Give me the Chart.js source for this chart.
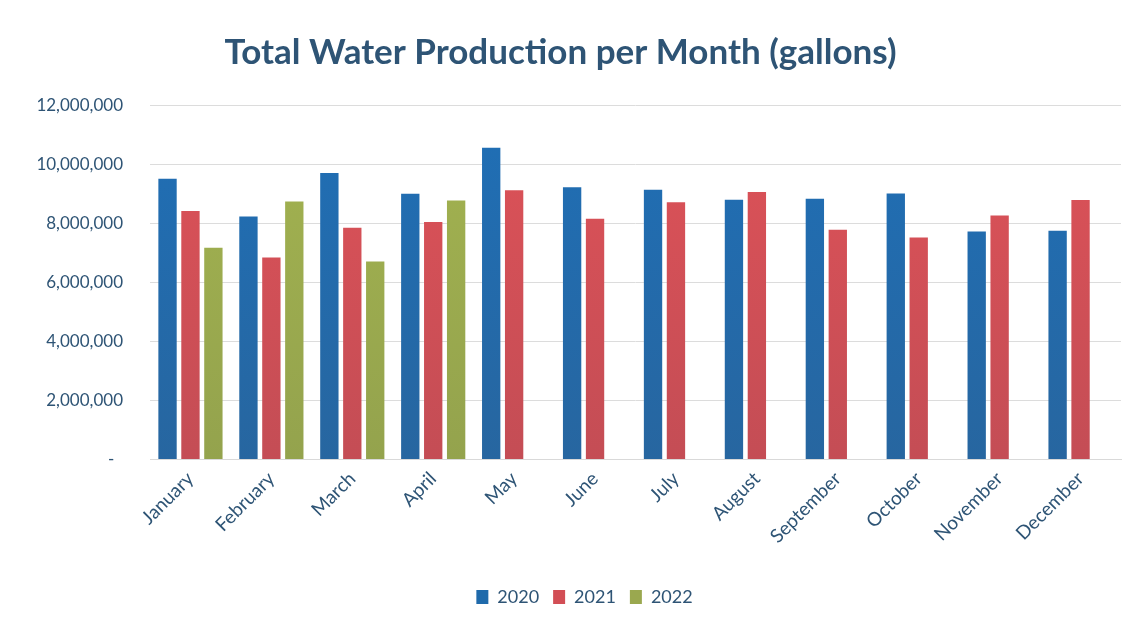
<!DOCTYPE html>
<html lang="en">
<head>
  <meta charset="UTF-8"/>
  <title>Total Water Production per Month</title>
  <script src="https://cdn.jsdelivr.net/npm/chart.js"></script>
  <style>
    html, body { margin: 0; padding: 0; background: #ffffff; }
    .wrap { width: 1140px; height: 624px; position: relative; }
  </style>
</head>
<body>
  <div class="wrap"><canvas id="chart"></canvas></div>

  <script>
    const months = ['January', 'February', 'March', 'April', 'May', 'June',
      'July', 'August', 'September', 'October', 'November', 'December'];
    const prod2020 = [9510000, 8230000, 9700000, 9000000, 10560000, 9220000,
      9140000, 8800000, 8830000, 9010000, 7720000, 7750000];
    const prod2021 = [8420000, 6840000, 7850000, 8040000, 9120000, 8150000,
      8710000, 9060000, 7780000, 7520000, 8260000, 8790000];
    const prod2022 = [7170000, 8740000, 6710000, 8770000, null, null,
      null, null, null, null, null, null];
    const yTicks = [0, 2000000, 4000000, 6000000, 8000000, 10000000, 12000000];

    const textColor = '#2e5475';
    const font = 'Lato, "Open Sans", sans-serif';

    // slightly darker toward the base of each bar
    function shade(top, bottom) {
      return (ctx) => {
        const area = ctx.chart.chartArea;
        if (!area) return top;
        const g = ctx.chart.ctx.createLinearGradient(0, area.top, 0, area.bottom);
        g.addColorStop(0, top);
        g.addColorStop(1, bottom);
        return g;
      };
    }

    const series = [
      { label: '2020', data: prod2020, top: '#1f6fb6', bottom: '#2766a0', key: '#1f6aab' },
      { label: '2021', data: prod2021, top: '#de5258', bottom: '#c44d55', key: '#d24e55' },
      { label: '2022', data: prod2022, top: '#a3b350', bottom: '#94a34d', key: '#9aa84f' }
    ];

    // nudge the legend a little right of the canvas centre
    const legendShift = {
      id: 'legendShift',
      afterUpdate(chart) {
        const lg = chart.legend;
        if (!lg) return;
        lg.left += 24;
        lg.right += 24;
        lg.legendHitBoxes.forEach(b => { b.left += 24; });
      }
    };

    new Chart(document.getElementById('chart'), {
      type: 'bar',
      data: {
        labels: months,
        datasets: series.map(s => ({
          label: s.label,
          data: s.data,
          backgroundColor: shade(s.top, s.bottom),
          borderWidth: 0,
          categoryPercentage: 0.85,
          barPercentage: 0.8
        }))
      },
      plugins: [legendShift],
      options: {
        responsive: true,
        maintainAspectRatio: false,
        animation: false,
        layout: { padding: { left: 0, right: 19, top: 0, bottom: 8 } },
        plugins: {
          title: {
            display: true,
            text: 'Total Water Production per Month (gallons)',
            color: textColor,
            font: { family: font, size: 35, weight: 'bold' },
            padding: { top: 31.6, bottom: 31.6 }
          },
          legend: {
            position: 'bottom',
            labels: {
              color: textColor,
              font: { family: font, size: 18 },
              boxWidth: 12,
              boxHeight: 14,
              padding: 14,
              generateLabels: (chart) => series.map((s, i) => ({
                text: s.label,
                fillStyle: s.key,
                strokeStyle: s.key,
                lineWidth: 0,
                fontColor: textColor,
                hidden: !chart.isDatasetVisible(i),
                datasetIndex: i
              }))
            }
          },
          tooltip: { enabled: false }
        },
        scales: {
          x: {
            grid: { display: false, drawTicks: false },
            border: { display: true, color: '#d9d9d9' },
            ticks: {
              color: textColor,
              font: { family: font, size: 19 },
              maxRotation: 45,
              minRotation: 45,
              padding: 8
            },
            afterFit: (scale) => { scale.height = 114.5; }
          },
          y: {
            min: 0,
            max: 12000000,
            grid: { color: '#dcdcdc', drawTicks: false },
            border: { display: false },
            afterBuildTicks: (scale) => { scale.ticks = yTicks.map(v => ({ value: v })); },
            ticks: {
              color: textColor,
              font: { family: font, size: 17 },
              padding: 27,
              callback: (v) => v === 0 ? '-  ' : v.toLocaleString('en-US')
            },
            afterFit: (scale) => { scale.width = 150; }
          }
        }
      }
    });
  </script>
</body>
</html>
